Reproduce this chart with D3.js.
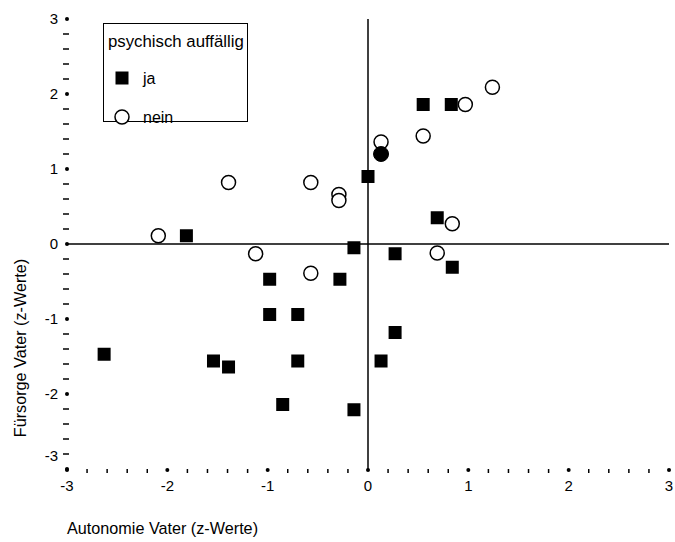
<!DOCTYPE html>
<html>
<head>
<meta charset="utf-8">
<script src="https://cdn.jsdelivr.net/npm/d3@7"></script>
<style>
  body { margin: 0; background: #fff; }
  text { font-family: "Liberation Sans", Arial, sans-serif; fill: #000; }
</style>
</head>
<body>
<div id="chart"></div>
<script>
// psychisch auffällig = ja (filled squares)
const jaX = [-2.63, -1.81, -0.14, 0.27, -0.98, -0.28, -0.98, -0.70, 0.27, -1.54,
             -1.39, -0.70, 0.13, -0.85, -0.14, 0.55, 0.83, 0.00, 0.69, 0.84];
const jaY = [-1.47, 0.11, -0.05, -0.13, -0.47, -0.47, -0.94, -0.94, -1.18, -1.56,
             -1.64, -1.56, -1.56, -2.14, -2.21, 1.86, 1.86, 0.90, 0.35, -0.31];
// psychisch auffällig = nein (open circles)
const neinX = [1.24, 0.97, 0.55, 0.13, -0.57, -0.29, -0.29, -1.39, -2.09, -1.12, -0.57, 0.84, 0.69];
const neinY = [2.09, 1.86, 1.44, 1.36, 0.82, 0.66, 0.58, 0.82, 0.11, -0.13, -0.39, 0.27, -0.12];
// both groups at the same spot (drawn as filled circle)
const beideX = [0.13];
const beideY = [1.20];

const majorTicks = [-3, -2, -1, 0, 1, 2, 3];
const minorTicks = d3.range(-30, 31, 2).map(d => d / 10).filter(d => !majorTicks.includes(d));

const legendTitle = "psychisch auffällig";
const legendLabels = ["ja", "nein"];
const xTitle = "Autonomie Vater (z-Werte)";
const yTitle = "Fürsorge Vater (z-Werte)";

const width = 675, height = 542;

const x = d3.scaleLinear().domain([-3, 3]).range([67, 669]);
const y = d3.scaleLinear().domain([-3, 3]).range([469, 19]);

const svg = d3.select("#chart").append("svg")
    .attr("width", width)
    .attr("height", height);

// zero lines
svg.append("line")
    .attr("x1", x(0)).attr("x2", x(0))
    .attr("y1", y(3)).attr("y2", y(-3))
    .attr("stroke", "#000").attr("stroke-width", 1.5);
svg.append("line")
    .attr("x1", x(-3)).attr("x2", x(3))
    .attr("y1", y(0)).attr("y2", y(0))
    .attr("stroke", "#000").attr("stroke-width", 1.5);

// y axis ticks (no axis line)
const yAxisX = x(-3);
svg.selectAll(".yminor").data(minorTicks).enter().append("line")
    .attr("x1", yAxisX - 4).attr("x2", yAxisX + 2)
    .attr("y1", d => y(d)).attr("y2", d => y(d))
    .attr("stroke", "#000").attr("stroke-width", 1.5);
svg.selectAll(".ymajor").data(majorTicks).enter().append("circle")
    .attr("cx", yAxisX).attr("cy", d => y(d)).attr("r", 2)
    .attr("fill", "#000");
svg.selectAll(".ylab").data(majorTicks).enter().append("text")
    .attr("x", yAxisX - 9)
    .attr("y", d => d === -3 ? y(d) - 13 : y(d))
    .attr("dy", "0.36em")
    .attr("text-anchor", "end")
    .attr("font-size", 15)
    .text(d => d);

// x axis ticks
const xAxisY = y(-3);
svg.selectAll(".xminor").data(minorTicks).enter().append("line")
    .attr("x1", d => x(d)).attr("x2", d => x(d))
    .attr("y1", xAxisY).attr("y2", xAxisY + 4)
    .attr("stroke", "#000").attr("stroke-width", 1.5);
svg.selectAll(".xmajor").data(majorTicks).enter().append("circle")
    .attr("cx", d => x(d)).attr("cy", xAxisY + 1).attr("r", 2)
    .attr("fill", "#000");
svg.selectAll(".xlab").data(majorTicks).enter().append("text")
    .attr("x", d => x(d))
    .attr("y", xAxisY + 22)
    .attr("text-anchor", "middle")
    .attr("font-size", 15)
    .text(d => d);

// axis titles
svg.append("text")
    .attr("x", 67).attr("y", 534)
    .attr("font-size", 16.2)
    .text(xTitle);
svg.append("text")
    .attr("transform", "translate(26,348) rotate(-90)")
    .attr("text-anchor", "middle")
    .attr("font-size", 16.2)
    .text(yTitle);

// points
const ja = jaX.map((v, i) => ({ x: v, y: jaY[i] }));
const nein = neinX.map((v, i) => ({ x: v, y: neinY[i] }));
const beide = beideX.map((v, i) => ({ x: v, y: beideY[i] }));

const sq = 13;
svg.selectAll(".ja").data(ja).enter().append("rect")
    .attr("x", d => x(d.x) - sq / 2)
    .attr("y", d => y(d.y) - sq / 2)
    .attr("width", sq).attr("height", sq)
    .attr("fill", "#000");

svg.selectAll(".nein").data(nein).enter().append("circle")
    .attr("cx", d => x(d.x)).attr("cy", d => y(d.y))
    .attr("r", 7)
    .attr("fill", "#fff")
    .attr("stroke", "#000").attr("stroke-width", 1.5);

svg.selectAll(".beide").data(beide).enter().append("circle")
    .attr("cx", d => x(d.x)).attr("cy", d => y(d.y))
    .attr("r", 7.5)
    .attr("fill", "#000")
    .attr("stroke", "#000").attr("stroke-width", 1);

// legend
const lg = svg.append("g");
lg.append("rect")
    .attr("x", 103.5).attr("y", 23.5)
    .attr("width", 144).attr("height", 98)
    .attr("fill", "#fff")
    .attr("stroke", "#000").attr("stroke-width", 1);
lg.append("text")
    .attr("x", 108).attr("y", 47)
    .attr("font-size", 16.8)
    .text(legendTitle);
lg.append("rect")
    .attr("x", 122 - sq / 2).attr("y", 78 - sq / 2)
    .attr("width", sq).attr("height", sq)
    .attr("fill", "#000");
lg.append("circle")
    .attr("cx", 122).attr("cy", 117).attr("r", 7)
    .attr("fill", "#fff")
    .attr("stroke", "#000").attr("stroke-width", 1.5);
lg.selectAll(".lglab").data(legendLabels).enter().append("text")
    .attr("x", 143)
    .attr("y", (d, i) => 84 + i * 39)
    .attr("font-size", 16)
    .text(d => d);
</script>
</body>
</html>
